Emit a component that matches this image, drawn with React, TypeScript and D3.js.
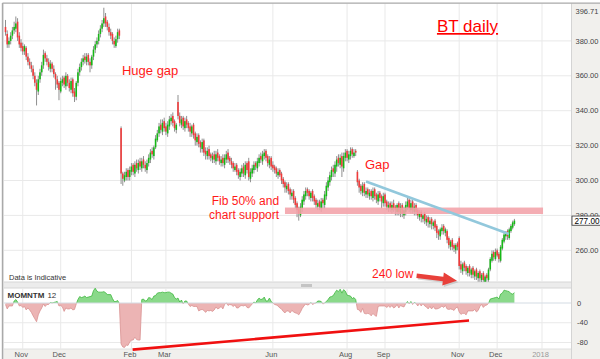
import React from 'react';
import * as d3 from 'd3';

// ---- Data (BT daily, Oct 2016 - Dec 2017), one entry per trading day ----
const PRIOR_CLOSES = [388, 390, 386, 389, 392, 384, 383, 380, 384, 381, 383, 384];

const OPEN = [
  388,384,378,380,383,386,387,391,383,379,
  377,374,376,371,368,366,364,360,356,351,
  358,362,366,373,370,368,364,367,364,361,
  358,356,351,356,359,354,360,356,352,358,
  351,348,356,362,365,368,371,368,372,368,
  366,371,375,378,380,384,387,390,394,391,
  388,385,384,380,377,381,386,330,304,300,
  302,306,302,305,309,304,310,306,311,307,
  312,309,306,310,312,317,314,319,323,327,
  332,328,334,331,327,331,334,337,334,329,
  345,337,332,336,330,335,333,331,327,332,
  327,322,326,322,318,323,317,314,318,315,
  312,315,311,316,314,310,313,309,312,316,
  313,311,310,306,309,306,302,304,308,303,
  310,311,301,304,306,310,307,310,314,311,
  314,317,314,309,313,309,308,307,303,306,
  304,301,299,295,298,295,291,294,290,287,
  284,280,284,288,291,295,294,290,294,291,
  289,285,288,284,289,286,291,296,299,302,
  307,304,308,313,309,314,307,313,317,312,
  314,318,314,317,305,300,297,293,298,292,
  295,291,294,290,295,292,288,293,291,287,
  292,288,284,287,283,287,285,282,287,281,
  286,280,282,285,289,283,288,282,286,283,
  279,282,278,281,276,279,275,278,274,277,
  274,271,268,271,274,270,271,267,262,266,
  263,260,264,267,252,248,253,251,247,251,
  246,250,245,249,244,248,243,247,242,246,
  243,249,254,259,255,260,258,254,261,265,
  268,271,267,271,273,275,
];

const HIGH = [
  392,386,382,385,388,391,394,393,385,381,
  379,378,377,373,370,368,366,362,358,360,
  364,368,375,374,372,370,369,368,366,362,
  360,357,359,360,360,362,361,358,359,359,
  353,357,364,367,370,372,373,373,373,370,
  372,377,380,382,386,389,392,399,396,392,
  390,387,385,382,383,387,387,331,305,305,
  307,307,308,310,310,311,312,312,313,313,
  314,311,312,315,318,319,320,326,329,333,
  335,335,336,333,334,337,338,339,335,333,
  349,339,337,337,336,337,334,333,332,333,
  328,327,327,323,324,324,319,319,320,316,
  316,317,317,318,315,314,315,315,317,318,
  314,313,311,310,310,307,307,309,310,311,
  311,313,307,309,311,311,313,315,316,317,
  318,318,315,314,314,311,309,308,307,307,
  305,302,300,299,299,296,295,295,291,288,
  285,287,291,294,296,296,295,294,295,292,
  290,289,289,290,290,294,299,302,305,308,
  309,311,314,315,315,316,316,318,318,317,
  319,319,318,318,306,301,298,299,299,296,
  296,295,295,296,296,293,294,294,292,293,
  293,289,288,288,288,289,286,287,288,287,
  287,285,288,290,290,289,289,287,287,284,
  283,283,281,282,280,280,279,279,277,278,
  275,272,273,275,275,273,272,268,266,267,
  264,264,265,268,254,253,254,252,251,252,
  250,251,249,250,248,249,247,248,246,247,
  250,256,260,260,261,261,259,263,267,270,
  271,272,273,275,277,278,
];

const LOW = [
  383,376,376,378,381,384,385,380,376,374,
  372,372,369,366,364,362,358,354,343,349,
  356,360,364,368,366,363,362,362,359,352,
  353,346,350,354,353,352,354,351,350,348,
  345,346,354,360,363,366,367,366,366,362,
  364,369,373,376,378,382,385,388,388,386,
  383,381,378,376,376,379,381,298,297,299,
  300,300,300,303,303,302,305,304,306,305,
  307,305,304,308,310,313,312,318,322,325,
  327,326,328,326,325,329,332,331,328,327,
  335,331,330,329,328,330,328,325,325,324,
  320,320,319,316,316,314,312,312,312,311,
  310,310,309,311,309,308,308,307,310,310,
  309,307,305,305,303,301,300,302,302,301,
  304,300,299,302,304,306,305,308,310,309,
  312,311,308,307,306,305,304,302,301,302,
  298,296,293,293,292,289,289,287,284,279,
  277,279,282,286,289,291,289,288,288,286,
  284,283,283,282,284,284,289,294,297,300,
  302,302,305,308,307,302,305,311,311,310,
  312,313,313,314,297,293,292,291,291,290,
  290,289,289,288,289,287,286,288,284,285,
  285,283,282,282,281,282,280,280,280,279,
  279,278,280,283,282,281,281,280,280,278,
  277,276,276,275,274,273,273,272,272,271,
  267,266,266,269,269,268,264,261,260,260,
  259,258,260,249,247,246,248,246,245,245,
  244,244,243,243,242,242,241.5,242,241.5,242,
  242,248,253,254,254,256,253,253,260,264,
  266,266,266,270,272,274,
];

const CLOSE = [
  385,378,380,383,386,388,390,382,378,376,
  374,377,371,368,366,364,360,356,352,358,
  362,366,372,370,368,365,367,364,361,358,
  355,352,357,358,355,360,356,353,357,350,
  348,356,362,365,368,370,369,371,368,366,
  371,375,378,380,384,387,390,393,390,388,
  385,383,380,378,381,385,383,304,301,303,
  305,302,306,308,305,309,307,310,308,311,
  309,307,310,313,316,315,319,324,327,331,
  329,333,330,328,332,335,336,333,330,332,
  337,333,335,331,334,332,330,328,331,326,
  323,325,321,319,322,316,315,317,314,313,
  314,312,315,313,311,312,310,313,315,312,
  311,309,307,308,305,303,305,307,304,309,
  306,302,305,307,309,308,311,313,312,315,
  316,313,310,312,308,307,306,304,305,303,
  300,298,296,297,294,292,293,289,286,283,
  281,285,289,292,294,293,291,293,290,288,
  286,287,285,288,287,292,297,300,303,306,
  305,309,312,310,313,308,314,316,313,315,
  317,315,316,316,299,296,294,297,293,294,
  292,293,291,294,291,289,292,290,288,291,
  287,285,286,284,286,284,283,286,282,285,
  281,283,286,288,284,287,283,285,282,280,
  281,279,280,277,278,276,277,275,276,273,
  270,269,272,273,271,272,266,263,265,262,
  261,263,262,251,249,252,250,248,250,247,
  249,246,248,245,247,244,246,243,245,244,
  249,255,258,256,259,257,255,262,266,269,
  270,268,272,274,276,277,
];

const MONTH_LABELS = ['Nov', 'Dec', 'Feb', 'Mar', 'Jun', 'Aug', 'Sep', 'Nov', 'Dec', '2018'];
const MONTH_INDEX = [10, 32, 73, 93, 155, 198, 220, 263, 285, 311];
const PRICE_TICKS = [380, 360, 340, 320, 300, 280, 260];
const PRICE_TOP = 396.71;
const MOM_TICKS = [0, -40, -80];
const MOM_PERIOD = 12;
const LAST_PRICE = 277.0;

// Annotation data (index, price / momentum)
const SUPPORT_BAND = { i0: 162, i1: 311.6, p0: 280.8, p1: 284.5 };
const TRENDLINE = [[209, 299.4], [291.9, 269.3]];
const MOM_TRENDLINE = [[73.7, -94.5], [268.7, -35.3]];
const ARROW = [[238.3, 245.4], [261.7, 242.6]];
const NOTES = [
  { text: 'Huge gap', i: 67.5, p: 360.4, size: 13, anchor: 'start' },
  { text: 'Fib 50% and', i: 158.6, p: 285.9, size: 12, anchor: 'end' },
  { text: 'chart support', i: 158.6, p: 277.9, size: 12, anchor: 'end' },
  { text: 'Gap', i: 208.4, p: 306.6, size: 13, anchor: 'start' },
  { text: '240 low', i: 212.5, p: 244.3, size: 12, anchor: 'start' },
];
const TITLE = { text: 'BT daily', i: 250.1, p: 385.1, size: 17 };

const FONT = 'Liberation Sans, Arial, sans-serif';

export default function App() {
  const x = d3.scaleLinear().domain([0, 311]).range([5.5, 542]);
  const y = d3.scaleLinear().domain([260, 380]).range([250.3, 40.9]);
  const ym = d3.scaleLinear().domain([0, -80]).range([303, 342.5]);

  const allCloses = PRIOR_CLOSES.concat(CLOSE);
  const mom = CLOSE.map((c, i) => c - allCloses[i + MOM_PERIOD - MOM_PERIOD]);

  const area = d3
    .area<number>()
    .x((_, i) => x(i))
    .y0(ym(0))
    .y1((d) => ym(d));
  const line = d3
    .line<number>()
    .x((_, i) => x(i))
    .y((d) => ym(d));

  const plotL = 4;
  const plotR = 571.5;
  const priceTop = 3.5;
  const priceBot = 282;
  const momTop = 288;
  const momBot = 349;

  // arrow polygon
  const ax0 = x(ARROW[0][0]);
  const ay0 = y(ARROW[0][1]);
  const ax1 = x(ARROW[1][0]);
  const ay1 = y(ARROW[1][1]);
  const ang = Math.atan2(ay1 - ay0, ax1 - ax0);
  const len = Math.hypot(ax1 - ax0, ay1 - ay0);
  const headL = 14;
  const shaftW = 2.2;
  const headW = 6.5;
  const pts: [number, number][] = [
    [0, -shaftW],
    [len - headL, -shaftW],
    [len - headL, -headW],
    [len, 0],
    [len - headL, headW],
    [len - headL, shaftW],
    [0, shaftW],
  ];
  const rot = (p: [number, number]) => [
    ax0 + p[0] * Math.cos(ang) - p[1] * Math.sin(ang),
    ay0 + p[0] * Math.sin(ang) + p[1] * Math.cos(ang),
  ];
  const arrowPts = pts.map(rot).map((p) => p.join(',')).join(' ');
  const arrowShadow = pts
    .map(rot)
    .map((p) => [p[0] + 1.5, p[1] + 1.5].join(','))
    .join(' ');

  return (
    <div style={{ position: 'absolute', left: 0, top: 0 }}>
      <svg width={600} height={359} style={{ display: 'block', background: '#fff' }} fontFamily={FONT}>
        <defs>
          <clipPath id="momPos">
            <rect x={0} y={momTop} width={600} height={ym(0) - momTop} />
          </clipPath>
          <clipPath id="momNeg">
            <rect x={0} y={ym(0)} width={600} height={momBot - ym(0)} />
          </clipPath>
          <clipPath id="pricePanel">
            <rect x={plotL} y={priceTop} width={plotR - plotL} height={priceBot - priceTop} />
          </clipPath>
        </defs>

        {/* right axis + bottom axis backgrounds */}
        <rect x={plotR} y={priceTop} width={600 - plotR} height={359 - priceTop} fill="#f1f0ed" />
        <rect x={plotL} y={momBot} width={plotR - plotL} height={359 - momBot} fill="#f1f0ed" />
        {/* separator between panels */}
        <rect x={plotL} y={priceBot} width={plotR - plotL} height={momTop - priceBot} fill="#ececec" />
        <line x1={plotL} x2={plotR} y1={priceBot} y2={priceBot} stroke="#d6d6d6" />
        <line x1={plotL} x2={plotR} y1={momTop} y2={momTop} stroke="#d6d6d6" />
        <rect x={301} y={284} width={11} height={3} fill="#c4c4c4" />
        <line x1={plotL} x2={plotR} y1={momBot} y2={momBot} stroke="#e0e0e0" />

        {/* grid lines */}
        {PRICE_TICKS.map((p) => (
          <line key={'hg' + p} x1={plotL} x2={plotR} y1={y(p)} y2={y(p)} stroke="#e9e9e9" />
        ))}
        {MOM_TICKS.slice(1).map((m) => (
          <line key={'mg' + m} x1={plotL} x2={plotR} y1={ym(m)} y2={ym(m)} stroke="#e9e9e9" />
        ))}
        {MONTH_INDEX.map((mi, k) => (
          <g key={'vg' + k}>
            <line x1={x(mi)} x2={x(mi)} y1={priceTop} y2={priceBot} stroke="#e9e9e9" />
            <line x1={x(mi)} x2={x(mi)} y1={momTop} y2={momBot} stroke="#e9e9e9" />
          </g>
        ))}

        {/* candles */}
        <g clipPath="url(#pricePanel)">
          {CLOSE.map((c, i) => {
            const o = OPEN[i];
            const cx = x(i);
            const top = y(Math.max(o, c));
            const bot = y(Math.min(o, c));
            return (
              <g key={'c' + i}>
                <line x1={cx} x2={cx} y1={y(HIGH[i])} y2={y(LOW[i])} stroke="#8f8f8f" strokeWidth={1} />
                <rect
                  x={cx - 0.8}
                  y={top}
                  width={1.6}
                  height={Math.max(1, bot - top)}
                  fill={c >= o ? '#16b816' : '#f03a3a'}
                />
              </g>
            );
          })}
        </g>

        {/* support band */}
        <rect
          x={x(SUPPORT_BAND.i0)}
          y={y(SUPPORT_BAND.p1)}
          width={x(SUPPORT_BAND.i1) - x(SUPPORT_BAND.i0)}
          height={y(SUPPORT_BAND.p0) - y(SUPPORT_BAND.p1)}
          fill="#f2a2a8"
          opacity={0.88}
        />

        {/* trend line */}
        <line
          x1={x(TRENDLINE[0][0])}
          y1={y(TRENDLINE[0][1])}
          x2={x(TRENDLINE[1][0])}
          y2={y(TRENDLINE[1][1])}
          stroke="#92c8dc"
          strokeWidth={2.6}
        />

        {/* momentum panel */}
        <path d={area(mom) || ''} fill="#8ad98a" clipPath="url(#momPos)" />
        <path d={line(mom) || ''} fill="none" stroke="#3fb83f" strokeWidth={0.8} clipPath="url(#momPos)" />
        <path d={area(mom) || ''} fill="#ecb4b4" clipPath="url(#momNeg)" />
        <path d={line(mom) || ''} fill="none" stroke="#d99292" strokeWidth={0.8} clipPath="url(#momNeg)" />
        <line x1={plotL} x2={plotR} y1={ym(0)} y2={ym(0)} stroke="#d3dbe3" strokeWidth={1.2} />
        <line
          x1={x(MOM_TRENDLINE[0][0])}
          y1={ym(MOM_TRENDLINE[0][1])}
          x2={x(MOM_TRENDLINE[1][0])}
          y2={ym(MOM_TRENDLINE[1][1])}
          stroke="#f01010"
          strokeWidth={2.6}
        />

        {/* frame */}
        <line x1={plotR} x2={plotR} y1={priceTop} y2={359} stroke="#d4d4d4" />
        <line x1={2.5} x2={600} y1={3.2} y2={3.2} stroke="#a9a9a9" strokeWidth={1.3} />
        <line x1={2.6} x2={2.6} y1={3} y2={359} stroke="#a9a9a9" strokeWidth={1.6} />

        {/* price axis labels */}
        <text x={575.5} y={y(PRICE_TOP)} dy="0.35em" fontSize={7.5} fill="#444">
          {PRICE_TOP.toFixed(2)}
        </text>
        {PRICE_TICKS.map((p) => (
          <text key={'pl' + p} x={575.5} y={y(p)} dy="0.35em" fontSize={7.5} fill="#444">
            {p.toFixed(2)}
          </text>
        ))}
        <rect x={572} y={y(LAST_PRICE) - 4.6} width={30} height={9.2} fill="#fff" stroke="#333" strokeWidth={0.8} />
        <text x={574.5} y={y(LAST_PRICE)} dy="0.36em" fontSize={8.2} fill="#000">
          {LAST_PRICE.toFixed(2)}
        </text>

        {/* momentum axis labels */}
        {MOM_TICKS.map((m) => (
          <text key={'ml' + m} x={577} y={ym(m)} dy="0.35em" fontSize={7.5} fill="#444">
            {m}
          </text>
        ))}

        {/* month labels */}
        {MONTH_INDEX.map((mi, k) => (
          <text
            key={'ml' + k}
            x={x(mi) - 1.5}
            y={357}
            textAnchor="middle"
            fontSize={7.5}
            fill={MONTH_LABELS[k] === '2018' ? '#999' : '#555'}
          >
            {MONTH_LABELS[k]}
          </text>
        ))}

        {/* panel captions */}
        <text x={9} y={279.5} fontSize={7.5} fill="#333">
          Data is Indicative
        </text>
        <text x={7.5} y={298} fontSize={8} fill="#333">
          <tspan fontWeight="bold">MOMNTM</tspan>
          <tspan dx={3}>12</tspan>
        </text>

        {/* annotations */}
        <text
          x={x(TITLE.i)}
          y={y(TITLE.p)}
          fontSize={TITLE.size}
          fill="#ff0000"
          textDecoration="underline"
        >
          {TITLE.text}
        </text>
        {NOTES.map((nt, k) => (
          <text
            key={'n' + k}
            x={x(nt.i)}
            y={y(nt.p)}
            fontSize={nt.size}
            fill="#ff1a1a"
            textAnchor={nt.anchor as any}
          >
            {nt.text}
          </text>
        ))}
        <polygon points={arrowShadow} fill="#b0b0b0" opacity={0.5} />
        <polygon points={arrowPts} fill="#e8403a" />
      </svg>
    </div>
  );
}
